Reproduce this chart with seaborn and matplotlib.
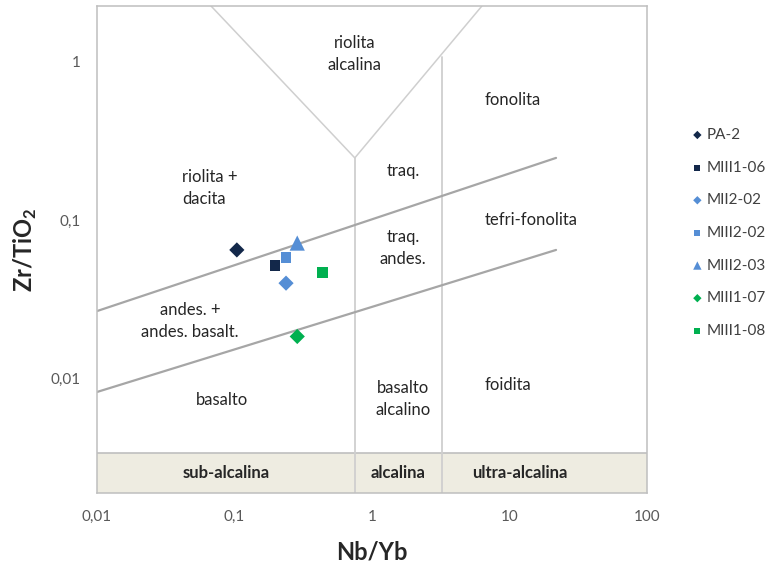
import matplotlib
matplotlib.use("Agg")
import matplotlib.pyplot as plt
from matplotlib.ticker import FixedLocator, FixedFormatter, NullLocator
import numpy as np
import pandas as pd
import seaborn as sns

# Samples: Nb/Yb and Zr/TiO2 ratios
samples = ["PA-2", "MIII1-06", "MII2-02", "MIII2-02", "MIII2-03", "MIII1-07", "MIII1-08"]
nb_yb = [0.104, 0.197, 0.237, 0.237, 0.286, 0.286, 0.438]
zr_tio2 = [0.0646, 0.0512, 0.0398, 0.058, 0.0714, 0.0183, 0.0464]
markers = ["D", "s", "D", "s", "^", "D", "s"]
colors = ["#13284A", "#13284A", "#558ED5", "#558ED5", "#558ED5", "#00B050", "#00B050"]
sizes = [60, 62, 60, 62, 120, 60, 62]

# Field boundaries of the classification diagram
v_left_x = [0.0675, 0.75]
v_left_y = [2.26, 0.247]
v_right_x = [0.75, 6.3]
v_right_y = [0.247, 2.26]
alk_x = [0.75, 0.75]
alk_y = [0.247, 0.00187]
ultra_x = [3.23, 3.23]
ultra_y = [1.07, 0.00187]
upper_line_x = [0.01, 21.8]
upper_line_y = [0.0265, 0.247]
lower_line_x = [0.01, 21.8]
lower_line_y = [0.00815, 0.0646]

field_labels = ["riolita\nalcalina", "fonolita", "riolita +\ndacita", "traq.", "tefri-fonolita",
                "traq.\nandes.", "andes. +\nandes. basalt.", "basalto", "basalto\nalcalino", "foidita"]
field_x = [0.752, 6.64, 0.0415, 1.68, 6.64, 1.68, 0.0475, 0.0811, 1.68, 6.64]
field_y = [1.12, 0.575, 0.159, 0.204, 0.1, 0.0665, 0.023, 0.00726, 0.00737, 0.00903]
field_ha = ["center", "left", "left", "center", "left", "center", "center", "center", "center", "left"]

series_labels = ["sub-alcalina", "alcalina", "ultra-alcalina"]
series_x = [0.0866, 1.556, 11.9]

x_ticks = [0.01, 0.1, 1, 10, 100]
x_tick_labels = ["0,01", "0,1", "1", "10", "100"]
y_ticks = [0.01, 0.1, 1]
y_tick_labels = ["0,01", "0,1", "1"]

x_min, x_max = 0.01, 100
y_min, y_max = 0.00187, 2.26
band_top = 0.00335

sns.set_theme(style="white")
plt.rcParams["font.family"] = ["Lato", "DejaVu Sans"]
plt.rcParams["mathtext.fontset"] = "custom"
plt.rcParams["mathtext.rm"] = "Lato"
plt.rcParams["mathtext.bf"] = "Lato:bold"

fig = plt.figure(figsize=(7.69, 5.68), dpi=100)
ax = fig.add_axes([97 / 769, 1 - 493 / 568, 550 / 769, 487 / 568])
ax.set_xscale("log")
ax.set_yscale("log")
ax.set_xlim(x_min, x_max)
ax.set_ylim(y_min, y_max)

# bottom band with the series names
ax.axhspan(y_min, band_top, color="#EEECE1", zorder=0, lw=0)
ax.axhline(band_top, color="#BFBFBF", lw=1.2, zorder=1)

light = "#CFCFCF"
dark = "#A6A6A6"
ax.plot(v_left_x, v_left_y, color=light, lw=1.1, zorder=1)
ax.plot(v_right_x, v_right_y, color=light, lw=1.1, zorder=1)
ax.plot(alk_x, alk_y, color=light, lw=1.3, zorder=1)
ax.plot(ultra_x, ultra_y, color=light, lw=1.3, zorder=1)
ax.plot(upper_line_x, upper_line_y, color=dark, lw=1.6, zorder=1)
ax.plot(lower_line_x, lower_line_y, color=dark, lw=1.6, zorder=1)

for lab, fx, fy, ha in zip(field_labels, field_x, field_y, field_ha):
    ax.text(fx, fy, lab, ha=ha, va="center", fontsize=12, color="#262626",
            linespacing=1.45, zorder=2)

band_mid = np.sqrt(y_min * band_top)
for lab, sx in zip(series_labels, series_x):
    ax.text(sx, band_mid, lab, ha="center", va="center", fontsize=12,
            fontweight="bold", color="#262626", zorder=2)

df = pd.DataFrame({"sample": samples, "Nb/Yb": nb_yb, "Zr/TiO2": zr_tio2})
for name, mk, col, sz in zip(samples, markers, colors, sizes):
    sub = df[df["sample"] == name]
    sns.scatterplot(data=sub, x="Nb/Yb", y="Zr/TiO2", marker=mk, color=col, s=sz,
                    edgecolor="none", label=name, ax=ax, zorder=3)

ax.xaxis.set_major_locator(FixedLocator(x_ticks))
ax.xaxis.set_major_formatter(FixedFormatter(x_tick_labels))
ax.yaxis.set_major_locator(FixedLocator(y_ticks))
ax.yaxis.set_major_formatter(FixedFormatter(y_tick_labels))
ax.xaxis.set_minor_locator(NullLocator())
ax.yaxis.set_minor_locator(NullLocator())
ax.tick_params(axis="both", direction="out", length=4, width=1, color="#A6A6A6",
               labelcolor="#595959", labelsize=11, pad=8)
ax.tick_params(axis="y", pad=8)

for sp in ax.spines.values():
    sp.set_color("#BFBFBF")
    sp.set_linewidth(1.1)

ax.set_xlabel("Nb/Yb", fontsize=17, fontweight="bold", color="#262626", labelpad=12)
ax.set_ylabel(r"Zr/TiO$_\mathbf{2}$", fontsize=17, fontweight="bold", color="#262626", labelpad=8)

handles, labels = ax.get_legend_handles_labels()
ax.legend(handles, labels, loc="upper left", bbox_to_anchor=(692 / 769, 1 - 128 / 568),
          bbox_transform=fig.transFigure, frameon=False, fontsize=11, markerscale=0.55,
          handlelength=0.7, handletextpad=0.25, labelspacing=1.22, labelcolor="#404040",
          borderaxespad=0, borderpad=0)

fig.savefig("out.png", dpi=100)
